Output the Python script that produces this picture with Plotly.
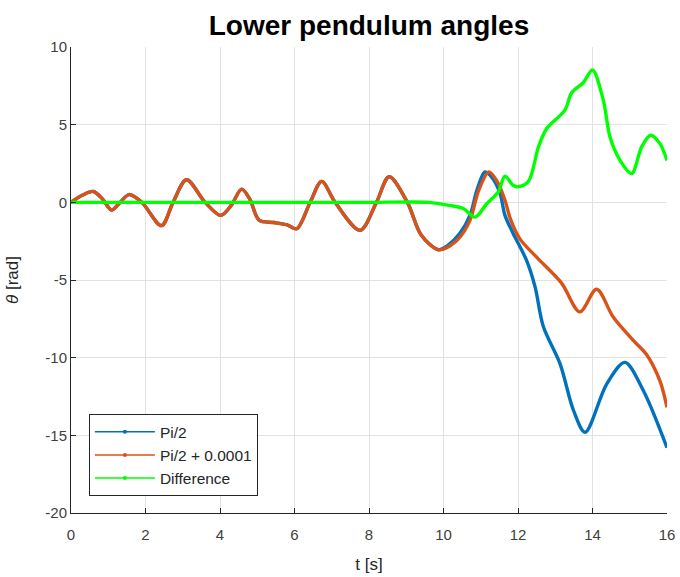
import plotly.graph_objects as go

# Pi/2 (blue)
t_pi2 = [0, 0.3, 0.6, 0.85, 1.09, 1.3, 1.56, 1.9, 2.43, 2.74, 3.1, 3.6, 4.02, 4.3, 4.58, 4.8,
         5.05, 5.45, 5.8, 6.06, 6.42, 6.73, 7.09, 7.76, 8.2, 8.54, 9.03, 9.4, 9.86,
         10.1, 10.44, 10.71, 10.9, 11.11, 11.3, 11.52, 11.65, 11.87, 12.23, 12.46, 12.68,
         13.13, 13.49, 13.8, 14.38, 14.87, 15.36, 16.0]
theta_pi2 = [0, 0.45, 0.7, 0.2, -0.5, -0.05, 0.5, 0.0, -1.5, 0.0, 1.45, 0.0, -0.84, -0.2, 0.85, 0.2,
             -1.15, -1.3, -1.45, -1.7, 0.0, 1.35, 0.0, -1.8, 0.0, 1.65, 0.0, -2.1, -3.05,
             -2.8, -2.0, -0.84, 0.8, 1.96, 1.6, 0.56, -0.84, -2.0, -3.74, -5.46, -8.0,
             -10.4, -13.4, -14.8, -11.7, -10.3, -12.1, -15.8]

# Pi/2 + 0.0001 (orange)
t_pi2b = [0, 0.3, 0.6, 0.85, 1.09, 1.3, 1.56, 1.9, 2.43, 2.74, 3.1, 3.6, 4.02, 4.3, 4.58, 4.8,
          5.05, 5.45, 5.8, 6.06, 6.42, 6.73, 7.09, 7.76, 8.2, 8.54, 9.03, 9.4, 9.86,
          10.1, 10.44, 10.71, 10.95, 11.22, 11.45, 11.65, 11.8, 12.05, 12.5, 13.17, 13.66,
          14.11, 14.56, 15.1, 15.45, 15.81, 16.0]
theta_pi2b = [0, 0.45, 0.7, 0.2, -0.5, -0.05, 0.5, 0.0, -1.5, 0.0, 1.45, 0.0, -0.84, -0.2, 0.85, 0.2,
              -1.15, -1.3, -1.45, -1.7, 0.0, 1.35, 0.0, -1.8, 0.0, 1.65, 0.0, -2.1, -3.05,
              -2.9, -2.24, -1.16, 0.8, 1.96, 1.3, 0.13, -1.1, -2.35, -3.53, -5.2, -7.05,
              -5.6, -7.4, -8.9, -9.8, -11.5, -13.2]

# Difference (green)
t_diff = [0, 2, 4, 6, 8, 9.6, 10.17, 10.53, 10.85, 11.16, 11.47, 11.65, 11.87, 12.01, 12.28,
          12.55, 12.77, 13.26, 13.44, 13.75, 14.0, 14.29, 14.47, 14.74, 15.05, 15.32, 15.56,
          15.81, 16.0]
theta_diff = [0, 0, 0, 0, 0, 0, -0.2, -0.4, -0.95, -0.09, 0.67, 1.68, 1.1, 1.0, 1.35,
              3.57, 4.75, 5.94, 7.05, 7.7, 8.52, 6.58, 4.2, 2.7, 1.85, 3.57, 4.32,
              3.78, 2.7]

series_names = ["Pi/2", "Pi/2 + 0.0001", "Difference"]
x_ticks = [0, 2, 4, 6, 8, 10, 12, 14, 16]
y_ticks = [-20, -15, -10, -5, 0, 5, 10]

FONT = "Liberation Sans, Arial, sans-serif"
colors = ["#0072BD", "#D95319", "#00FF00"]

fig = go.Figure()
data = [(t_pi2, theta_pi2), (t_pi2b, theta_pi2b), (t_diff, theta_diff)]
for name, (xs, ys), col in zip(series_names, data, colors):
    fig.add_trace(go.Scatter(
        x=xs, y=ys, name=name, mode="lines", showlegend=False,
        line=dict(color=col, width=3.4, shape="spline", smoothing=0.9),
    ))
# legend entries (MATLAB style: thin line with dot marker)
for name, col in zip(series_names, colors):
    fig.add_trace(go.Scatter(
        x=[None], y=[None], name=name, mode="lines+markers",
        line=dict(color=col, width=1.5), marker=dict(color=col, size=4),
    ))

axis_common = dict(
    showgrid=True, gridcolor="#e2e2e2", gridwidth=1, automargin=False,
    zeroline=False, showline=True, linecolor="#262626", linewidth=1,
    ticks="inside", ticklen=5, tickcolor="#262626",
    tickfont=dict(family=FONT, size=15, color="#404040"),
)

fig.update_layout(
    width=680, height=577,
    margin=dict(l=71, r=13, t=47, b=64),
    paper_bgcolor="white", plot_bgcolor="white",
    title=dict(text="<b>Lower pendulum angles</b>", x=0.5, xref="paper", xanchor="center",
               y=0.956, yanchor="middle",
               font=dict(family=FONT, size=28, color="#000000")),
    xaxis=dict(range=[0, 16], tickvals=x_ticks, ticktext=[str(v) for v in x_ticks],
               ticklabelstandoff=8,
               title=dict(text="t [s]", standoff=16,
                          font=dict(family=FONT, size=17, color="#262626")),
               **axis_common),
    yaxis=dict(range=[-20, 10], tickvals=y_ticks, ticktext=[str(v) for v in y_ticks],
               title=dict(text="<i>θ</i> [rad]", standoff=22,
                          font=dict(family=FONT, size=17, color="#262626")),
               **axis_common),
    showlegend=True,
    legend=dict(x=0.03, y=0.036, xanchor="left", yanchor="bottom",
                bgcolor="white", bordercolor="#262626", borderwidth=1,
                font=dict(family=FONT, size=15.5, color="#262626"),
                itemwidth=60, tracegroupgap=0),
)

fig.write_html("out.html", config={"displayModeBar": False},
               post_script="document.body.style.margin='0';")
